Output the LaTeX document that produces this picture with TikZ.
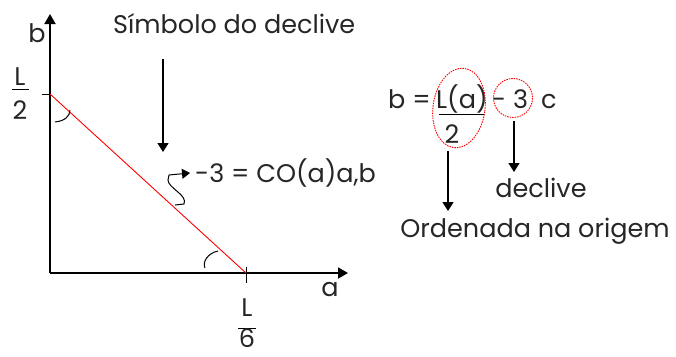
\documentclass[tikz,border=0pt]{standalone}
\usepackage{fontspec}
\setmainfont{Poppins}
\usetikzlibrary{arrows.meta}
\begin{document}
\begin{tikzpicture}[x=1pt,y=-1pt,
  txt/.style={inner sep=0pt,font=\fontsize{25.5}{28}\selectfont,text=black!85},
  axis/.style={line width=1.8pt,-{Triangle[width=11pt,length=10pt]}},
  arr/.style={line width=1.5pt,-{Triangle[width=11pt,length=9pt]}},
  thin/.style={line width=1pt},
  redl/.style={red,line width=0.9pt},
  redd/.style={red,line width=0.9pt,dash pattern=on 1.5pt off 1pt}]
\useasboundingbox (0,0) rectangle (676,356);
% axes
\coordinate (O) at (50,273);
\coordinate (Yt) at (50,14);
\coordinate (Xt) at (348,273);
\draw[axis] (O) -- (Yt);
\draw[axis] (O) -- (Xt);
\node[txt] (b) at (37,33) {b};
\node[txt] (a) at (330,290) {a};
% ticks
\coordinate (P) at (50,94);
\coordinate (Q) at (246,273);
\draw[thin] (42,94) -- (P);
\draw[thin] (246,267) -- (246,283);
% L/6 and L/2
\node[txt] (L2t) at (20,77) {L};
\draw[thin] (12,89) -- (29,89);
\node[txt] (L2b) at (20,110) {2};
\node[txt] (L6t) at (247,308) {L};
\draw[thin] (238,328) -- (256,328);
\node[txt] (L6b) at (247,338) {6};
% red line
\draw[redl] (P) -- (Q);
% angle arcs
\draw[thin] (55,122) .. controls (65,121) and (70,116) .. (70,110);
\draw[thin] (218,251) .. controls (208,253) and (202,262) .. (205,268);
% simbolo
\node[txt,anchor=west] (sim) at (113,24) {Símbolo do declive};
\coordinate (s1) at (163,59);
\coordinate (s2) at (163,152);
\draw[arr] (s1) -- (s2);
% squiggle
\node[txt,anchor=west] (co) at (195,173) {-3 = CO(a)a,b};
\coordinate (w0) at (175,205);
\draw[thin,-{Triangle[width=10pt,length=8pt]}] (w0) -- (184,204) .. controls (188,195) and (168,188) .. (168,180) -- (169,175) -- ([xshift=-5pt]co.west);
% equation
\node[txt,anchor=base west] (eb) at (388,108) {b =};
\node[txt,anchor=base west] (eL) at (436,108) {L(a)};
\draw[thin] (439,114) -- (484,114);
\node[txt] (e2) at (452,134) {2};
\node[txt,anchor=base west] (e3) at (492,108) {- 3};
\node[txt,anchor=base west] (ec) at (541,108) {c};
\draw[redd,rotate around={-8:(459,108)}] (459,108) ellipse (26 and 40);
\draw[redd] (513,98) circle (19.5);
\coordinate (o1) at (448,151);
\coordinate (o2) at (448,211);
\draw[arr] (o1) -- (o2);
\coordinate (d1) at (514,121);
\coordinate (d2) at (514,172);
\draw[arr] (d1) -- (d2);
\node[txt] (decl) at (541,188) {declive};
\node[txt] (ord) at (535,231) {Ordenada na origem};
\end{tikzpicture}
\end{document}
